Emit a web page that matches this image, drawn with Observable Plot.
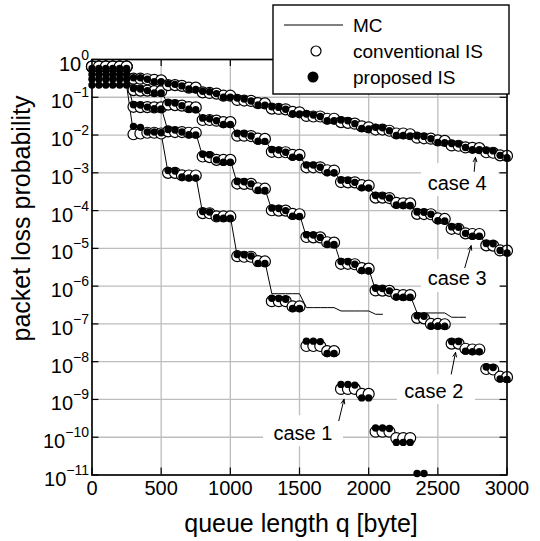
<!DOCTYPE html>
<html>
<head>
<meta charset="utf-8">
<script src="https://cdn.jsdelivr.net/npm/d3@7"></script>
<script src="https://cdn.jsdelivr.net/npm/@observablehq/plot@0.6"></script>
<style>
  html, body { margin: 0; padding: 0; background: white; }
  #chart { width: 540px; height: 541px; }
</style>
</head>
<body>
<div id="chart"></div>
<script>
// ---------- data ----------
const queue = [0,50,100,150,200,250,300,350,400,450,500,550,600,650,700,750,800,850,900,950,1000,1050,1100,1150,1200,1250,1300,1350,1400,1450,1500,1550,1600,1650,1700,1750,1800,1850,1900,1950,2000,2050,2100,2150,2200,2250,2300,2350,2400,2450,2500,2550,2600,2650,2700,2750,2800,2850,2900,2950,3000];

const xTicks = [0, 500, 1000, 1500, 2000, 2500, 3000];
const xTickLabels = ["0", "500", "1000", "1500", "2000", "2500", "3000"];
const yTicks = [1, 1e-1, 1e-2, 1e-3, 1e-4, 1e-5, 1e-6, 1e-7, 1e-8, 1e-9, 1e-10, 1e-11];
const yTickExponents = ["0", "\u22121", "\u22122", "\u22123", "\u22124", "\u22125", "\u22126", "\u22127", "\u22128", "\u22129", "\u221210", "\u221211"];

// case 1
const conv1 = [0.65,0.65,0.65,0.65,0.65,0.65,
  0.0105,0.011,0.0115,0.0115,0.011,
  1.0e-3,1.0e-3,8.6e-4,8.5e-4,8.5e-4,
  8.6e-5,8.5e-5,7.0e-5,7.0e-5,7.0e-5,
  6.2e-6,6.0e-6,6.0e-6,4.6e-6,4.5e-6,
  4.0e-7,4.0e-7,4.0e-7,2.9e-7,2.9e-7,
  2.6e-8,2.6e-8,2.6e-8,1.9e-8,1.9e-8,
  1.9e-9,1.9e-9,1.9e-9,1.4e-9,1.4e-9,
  1.4e-10,1.4e-10,1.4e-10,9.5e-11,9.5e-11,9.5e-11,
  null,null,null,null,null,null,null,null,null,null,null,null,null,null];
const prop1 = [0.21,0.21,0.21,0.21,0.21,0.21,
  0.017,0.016,0.012,0.012,0.0115,
  1.15e-3,1.12e-3,7.8e-4,7.3e-4,7.3e-4,
  9.5e-5,9.2e-5,6.5e-5,6.3e-5,6.3e-5,
  6.9e-6,6.8e-6,6.3e-6,4.0e-6,4.0e-6,
  4.8e-7,4.7e-7,4.5e-7,2.55e-7,2.55e-7,
  3.5e-8,3.5e-8,3.4e-8,1.65e-8,1.65e-8,
  2.5e-9,2.5e-9,2.4e-9,1.1e-9,1.1e-9,
  1.75e-10,1.75e-10,1.7e-10,7.3e-11,7.3e-11,7.3e-11,
  1.1e-11,1.1e-11,
  null,null,null,null,null,null,null,null,null,null,null,null];
const mc1 = [0.21,0.21,0.21,0.21,0.21,0.21,
  0.0108,0.011,0.0115,0.0115,0.011,
  1.0e-3,1.0e-3,8.5e-4,8.5e-4,8.5e-4,
  8.5e-5,8.5e-5,7.0e-5,7.0e-5,7.0e-5,
  6.1e-6,6.0e-6,6.0e-6,4.6e-6,4.5e-6,
  6.3e-7,6.3e-7,6.3e-7,6.3e-7,6.3e-7,
  2.7e-7,2.7e-7,2.7e-7,2.7e-7,2.7e-7,
  2.2e-7,2.2e-7,2.2e-7,2.2e-7,2.2e-7,
  1.8e-7,1.8e-7,
  null,null,null,null,null,null,null,null,null,null,null,null,null,null,null,null,null,null];

// case 2
const conv2 = [0.65,0.65,0.65,0.65,0.65,0.65,
  0.056,0.055,0.055,0.054,0.054,
  0.0125,0.012,0.012,0.0115,0.0115,
  0.0027,0.0026,0.0022,0.0022,0.0022,
  5.2e-4,5.1e-4,5.1e-4,3.9e-4,3.8e-4,
  1.02e-4,1.0e-4,1.0e-4,8.2e-5,8.0e-5,
  2.0e-5,1.96e-5,1.95e-5,1.45e-5,1.42e-5,
  3.9e-6,3.9e-6,3.8e-6,3.0e-6,2.9e-6,
  7.7e-7,7.6e-7,7.5e-7,5.9e-7,5.8e-7,5.8e-7,
  1.45e-7,1.4e-7,1.0e-7,1.0e-7,9.8e-8,
  3.0e-8,3.0e-8,2.2e-8,2.1e-8,2.1e-8,
  6.4e-9,6.2e-9,4.0e-9,3.9e-9];
const prop2 = [0.30,0.30,0.30,0.30,0.30,0.30,
  0.063,0.062,0.055,0.05,0.049,
  0.014,0.0135,0.012,0.0102,0.0101,
  0.0031,0.003,0.0022,0.0019,0.0019,
  5.9e-4,5.8e-4,5.1e-4,3.45e-4,3.4e-4,
  1.16e-4,1.14e-4,1.0e-4,7.1e-5,7.0e-5,
  2.3e-5,2.25e-5,1.95e-5,1.28e-5,1.26e-5,
  4.5e-6,4.4e-6,3.8e-6,2.6e-6,2.55e-6,
  8.8e-7,8.6e-7,7.5e-7,5.2e-7,5.1e-7,5.1e-7,
  1.65e-7,1.6e-7,8.8e-8,8.8e-8,8.7e-8,
  3.4e-8,3.4e-8,1.9e-8,1.85e-8,1.85e-8,
  7.2e-9,7.0e-9,3.5e-9,3.4e-9];
const mc2 = [0.30,0.30,0.30,0.30,0.30,0.30,
  0.056,0.055,0.055,0.054,0.054,
  0.0125,0.012,0.012,0.0115,0.0115,
  0.0027,0.0026,0.0022,0.0022,0.0022,
  5.2e-4,5.1e-4,5.1e-4,3.9e-4,3.8e-4,
  1.02e-4,1.0e-4,1.0e-4,8.2e-5,8.0e-5,
  2.0e-5,1.96e-5,1.95e-5,1.45e-5,1.42e-5,
  3.9e-6,3.9e-6,3.8e-6,3.0e-6,2.9e-6,
  7.7e-7,7.6e-7,7.5e-7,5.9e-7,5.8e-7,5.8e-7,
  1.95e-7,1.95e-7,1.95e-7,1.95e-7,1.95e-7,
  1.5e-7,1.5e-7,1.5e-7,
  null,null,null,null,null,null];

// case 3
const conv3 = [0.65,0.65,0.65,0.65,0.65,0.65,
  0.155,0.15,0.15,0.145,0.145,
  0.064,0.062,0.06,0.055,0.054,
  0.025,0.025,0.024,0.022,0.022,
  0.0096,0.0096,0.0094,0.008,0.0079,
  0.0036,0.0035,0.0035,0.003,0.003,
  0.0014,0.0014,0.0014,0.00117,0.00115,
  5.7e-4,5.6e-4,5.6e-4,4.7e-4,4.6e-4,
  2.2e-4,2.2e-4,2.15e-4,1.6e-4,1.56e-4,1.55e-4,
  8.2e-5,8.1e-5,8.0e-5,6.2e-5,6.0e-5,
  3.3e-5,3.3e-5,2.5e-5,2.4e-5,2.4e-5,
  1.2e-5,1.18e-5,8.8e-6,8.7e-6];
const prop3 = [0.40,0.40,0.40,0.40,0.40,0.40,
  0.17,0.165,0.15,0.13,0.13,
  0.072,0.07,0.06,0.048,0.047,
  0.028,0.027,0.024,0.019,0.019,
  0.011,0.0108,0.0094,0.0069,0.0068,
  0.0041,0.004,0.0035,0.0026,0.0026,
  0.0016,0.0016,0.0014,0.001,0.001,
  6.4e-4,6.3e-4,5.6e-4,4.0e-4,4.0e-4,
  2.5e-4,2.45e-4,2.15e-4,1.4e-4,1.38e-4,1.37e-4,
  9.2e-5,9.0e-5,8.0e-5,5.4e-5,5.3e-5,
  3.7e-5,3.6e-5,2.5e-5,2.1e-5,2.1e-5,
  1.35e-5,1.32e-5,8.8e-6,7.6e-6];
const mc3 = [0.40,0.40,0.40,0.40,0.40,0.40,
  0.155,0.15,0.15,0.145,0.145,
  0.064,0.062,0.06,0.055,0.054,
  0.025,0.025,0.024,0.022,0.022,
  0.0096,0.0096,0.0094,0.008,0.0079,
  0.0036,0.0035,0.0035,0.003,0.003,
  0.0014,0.0014,0.0014,0.00117,0.00115,
  5.7e-4,5.6e-4,5.6e-4,4.7e-4,4.6e-4,
  2.2e-4,2.2e-4,2.15e-4,1.6e-4,1.56e-4,1.55e-4,
  8.2e-5,8.1e-5,8.0e-5,6.2e-5,6.0e-5,
  3.3e-5,3.3e-5,2.5e-5,2.4e-5,2.4e-5,
  1.2e-5,1.18e-5,8.8e-6,8.7e-6];

// case 4
const conv4 = [0.65,0.65,0.65,0.65,0.65,0.65,
  0.31,0.31,0.30,0.29,0.28,
  0.21,0.21,0.20,0.18,0.18,
  0.135,0.13,0.125,0.11,0.11,
  0.085,0.082,0.08,0.07,0.069,
  0.05,0.049,0.048,0.041,0.04,
  0.032,0.031,0.031,0.027,0.027,
  0.022,0.021,0.02,0.017,0.016,
  0.014,0.014,0.013,0.011,0.011,0.0105,
  0.0085,0.0082,0.008,0.0072,0.007,
  0.0053,0.0052,0.0047,0.0046,0.0045,
  0.0035,0.0034,0.0029,0.0028];
const prop4 = [0.58,0.58,0.58,0.58,0.58,0.58,
  0.33,0.33,0.30,0.26,0.26,
  0.23,0.22,0.20,0.165,0.16,
  0.145,0.14,0.125,0.10,0.10,
  0.095,0.09,0.08,0.063,0.062,
  0.056,0.054,0.048,0.037,0.036,
  0.036,0.034,0.031,0.024,0.024,
  0.025,0.024,0.02,0.015,0.0145,
  0.016,0.0155,0.013,0.0098,0.0097,0.0095,
  0.0095,0.0092,0.008,0.0064,0.0063,
  0.006,0.0058,0.0047,0.0041,0.0041,
  0.0039,0.0038,0.0029,0.0025];
const mc4 = [0.60,0.60,0.60,0.60,0.60,0.60,
  0.31,0.31,0.30,0.29,0.28,
  0.21,0.21,0.20,0.18,0.18,
  0.135,0.13,0.125,0.11,0.11,
  0.085,0.082,0.08,0.07,0.069,
  0.05,0.049,0.048,0.041,0.04,
  0.032,0.031,0.031,0.027,0.027,
  0.022,0.021,0.02,0.017,0.016,
  0.014,0.014,0.013,0.011,0.011,0.0105,
  0.0085,0.0082,0.008,0.0072,0.007,
  0.0053,0.0052,0.0047,0.0046,0.0045,
  0.0035,0.0034,0.0029,0.0028];

// annotations (data coordinates)
const caseLabels = [
  {label: "case 4", q: 2640, p: 5.1e-4},
  {label: "case 3", q: 2640, p: 1.63e-6},
  {label: "case 2", q: 2471, p: 1.6e-9},
  {label: "case 1", q: 1525, p: 1.28e-10}
];
const labelBoxes = [
  {q1: 2382, q2: 2939, p1: 1.75e-3, p2: 2.34e-4},
  {q1: 2382, q2: 2953, p1: 5.0e-6, p2: 6.7e-7},
  {q1: 2208, q2: 2772, p1: 4.5e-9, p2: 7.3e-10},
  {q1: 1240, q2: 1818, p1: 3.7e-10, p2: 5.6e-11}
];
const arrows = [
  {q1: 2763, p1: 1.09e-3, q2: 2772, p2: 2.57e-3},
  {q1: 2695, p1: 3.08e-6, q2: 2741, p2: 1.18e-5},
  {q1: 2597, p1: 4.72e-9, q2: 2628, p2: 1.76e-8},
  {q1: 1784, p1: 2.74e-10, q2: 1822, p2: 1.01e-9}
];

// ---------- build rows ----------
function rows(arr, c) { return arr.map((p, i) => ({q: queue[i], p, c})); }
const mcRows = [...rows(mc1, 1), ...rows(mc2, 2), ...rows(mc3, 3), ...rows(mc4, 4)];
const convRows = [...rows(conv1, 1), ...rows(conv2, 2), ...rows(conv3, 3), ...rows(conv4, 4)].filter(d => d.p != null);
const propRows = [...rows(prop1, 1), ...rows(prop2, 2), ...rows(prop3, 3), ...rows(prop4, 4)].filter(d => d.p != null);

const FONT = "'Liberation Sans', Arial, Helvetica, sans-serif";
const tickLenX = 50;       // inward tick length along x (data units)
const tickFactorY = 1.53;  // inward tick length along log y

const chart = Plot.plot({
  width: 540,
  height: 541,
  marginLeft: 91.5,
  marginRight: 33.5,
  marginTop: 59,
  marginBottom: 66.5,
  style: {fontFamily: FONT, fontSize: "20px", color: "black", background: "white", overflow: "visible"},
  x: {type: "linear", domain: [0, 3000]},
  y: {type: "log", domain: [1e-11, 1]},
  marks: [
    Plot.gridX(xTicks, {stroke: "#bdbdbd", strokeOpacity: 1, strokeWidth: 1.3}),
    Plot.gridY(yTicks, {stroke: "#bdbdbd", strokeOpacity: 1, strokeWidth: 1.3}),
    Plot.rect(labelBoxes, {x1: "q1", x2: "q2", y1: "p1", y2: "p2", fill: "white"}),
    Plot.ruleY(yTicks, {x1: 0, x2: tickLenX, stroke: "black", strokeWidth: 1.2}),
    Plot.ruleY(yTicks, {x1: 3000 - tickLenX, x2: 3000, stroke: "black", strokeWidth: 1.2}),
    Plot.ruleX(xTicks, {y1: 1e-11, y2: 1e-11 * tickFactorY, stroke: "black", strokeWidth: 1.2}),
    Plot.ruleX(xTicks, {y1: 1, y2: 1 / tickFactorY, stroke: "black", strokeWidth: 1.2}),
    Plot.line(mcRows, {x: "q", y: "p", z: "c", stroke: "black", strokeWidth: 1}),
    Plot.dot(convRows, {x: "q", y: "p", r: 5.5, fill: "white", stroke: "black", strokeWidth: 1.2}),
    Plot.dot(propRows, {x: "q", y: "p", r: 3.7, fill: "black", stroke: "none"}),
    Plot.text(caseLabels, {x: "q", y: "p", text: "label", fontSize: 20, fill: "black", textAnchor: "middle", lineAnchor: "middle"}),
    Plot.arrow(arrows, {x1: "q1", y1: "p1", x2: "q2", y2: "p2", stroke: "black", strokeWidth: 1, headLength: 7, headAngle: 45}),
    Plot.axisX(xTicks, {label: null, tickSize: 0, tickPadding: 6, fontSize: 20,
      tickFormat: d => xTickLabels[xTicks.indexOf(d)]}),
    Plot.axisY(yTicks, {label: null, tickSize: 0, tickPadding: 3, fontSize: 20,
      tickFormat: d => "10|" + yTickExponents[yTicks.indexOf(d)]}),
    Plot.frame({stroke: "black", strokeWidth: 1.6})
  ]
});

// superscript exponents on y tick labels
const NS = "http://www.w3.org/2000/svg";
chart.querySelectorAll("text").forEach(t => {
  const s = t.textContent;
  if (s.includes("|")) {
    const [b, e] = s.split("|");
    t.textContent = "";
    const t1 = document.createElementNS(NS, "tspan");
    t1.setAttribute("dy", "4.6");
    t1.textContent = b;
    const t2 = document.createElementNS(NS, "tspan");
    t2.setAttribute("dy", "-11");
    t2.setAttribute("font-size", "14");
    t2.textContent = e;
    t.append(t1, t2);
  }
});

const svg = d3.select(chart);

// axis titles
svg.append("text")
  .attr("transform", "translate(30,218.5) rotate(-90)")
  .attr("text-anchor", "middle")
  .attr("font-family", FONT).attr("font-size", 25).attr("fill", "black")
  .text("packet loss probability");
svg.append("text")
  .attr("x", 301).attr("y", 532)
  .attr("text-anchor", "middle")
  .attr("font-family", FONT).attr("font-size", 25).attr("fill", "black")
  .text("queue length q [byte]");

// legend
const lg = svg.append("g");
lg.append("rect").attr("x", 273).attr("y", 5).attr("width", 236).attr("height", 89)
  .attr("fill", "white").attr("stroke", "black").attr("stroke-width", 1.4);
lg.append("line").attr("x1", 284).attr("x2", 343).attr("y1", 25).attr("y2", 25)
  .attr("stroke", "black").attr("stroke-width", 1);
lg.append("circle").attr("cx", 316).attr("cy", 51).attr("r", 5)
  .attr("fill", "white").attr("stroke", "black").attr("stroke-width", 1.2);
lg.append("circle").attr("cx", 313).attr("cy", 77).attr("r", 5.5).attr("fill", "black");
[["MC", 25], ["conventional IS", 51], ["proposed IS", 77]].forEach(([s, y]) => {
  lg.append("text").attr("x", 353).attr("y", y).attr("dy", "0.36em")
    .attr("text-anchor", "start")
    .attr("font-family", FONT).attr("font-size", 19).attr("fill", "black").text(s);
});

document.getElementById("chart").appendChild(chart);
</script>
</body>
</html>
